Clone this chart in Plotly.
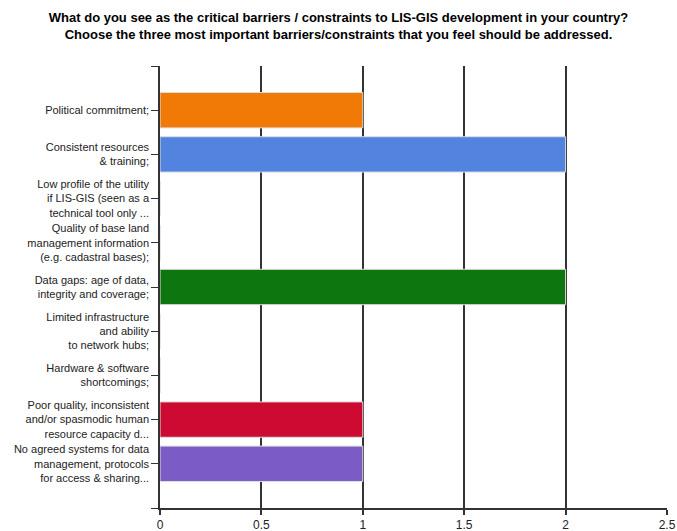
import numpy as np
import plotly.graph_objects as go

# Survey responses: critical barriers / constraints to LIS-GIS development
categories = [
    "Political commitment;",
    "Consistent resources<br>& training;",
    "Low profile of the utility<br>if LIS-GIS (seen as a<br>technical tool only ...",
    "Quality of base land<br>management information<br>(e.g. cadastral bases);",
    "Data gaps: age of data,<br>integrity and coverage;",
    "Limited infrastructure<br>and ability<br>to network hubs;",
    "Hardware & software<br>shortcomings;",
    "Poor quality, inconsistent<br>and/or spasmodic human<br>resource capacity d...",
    "No agreed systems for data<br>management, protocols<br>for access & sharing...",
]
counts = [1, 2, 0, 0, 2, 0, 0, 1, 1]
bar_colors = ["#F07A05", "#5283DE", "#2E9E9E", "#A0A0A0", "#0E760E",
              "#888888", "#888888", "#CD0A32", "#7B5CC6"]
x_ticks = [0, 0.5, 1, 1.5, 2, 2.5]
x_tick_labels = ["0", "0.5", "1", "1.5", "2", "2.5"]

n = len(categories)
positions = np.arange(n)

fig = go.Figure(
    go.Bar(
        x=counts,
        y=positions,
        orientation="h",
        width=0.8,
        marker=dict(color=bar_colors, line=dict(color="#DDDDDD", width=1)),
        hoverinfo="x+y",
    )
)

fig.update_layout(
    width=677,
    height=531,
    margin=dict(l=160, r=10, t=66, b=23),
    paper_bgcolor="white",
    plot_bgcolor="white",
    showlegend=False,
    font=dict(family="Liberation Sans, Arial, sans-serif", size=11, color="#222222"),
    title=dict(
        text="<b>What do you see as the critical barriers / constraints to LIS-GIS development in your country?<br>"
             "Choose the three most important barriers/constraints that you feel should be addressed.</b>",
        x=0.5,
        xanchor="center",
        xref="container",
        y=1 - 22 / 531,
        yref="container",
        yanchor="middle",
        font=dict(size=13, color="#000000"),
    ),
)

fig.update_xaxes(
    range=[0, 2.5],
    tickvals=x_ticks,
    ticktext=x_tick_labels,
    automargin=False,
    showgrid=True,
    gridcolor="#333333",
    gridwidth=1.5,
    zeroline=False,
    showline=True,
    linecolor="#333333",
    linewidth=1.5,
    ticks="outside",
    ticklen=5,
    tickcolor="#333333",
    tickwidth=1.5,
    tickfont=dict(size=12, color="#222222"),
)

fig.update_yaxes(
    range=[n, -1],
    tickvals=[-1] + list(positions) + [n],
    ticktext=[""] + categories + [""],
    automargin=False,
    showgrid=False,
    zeroline=False,
    showline=True,
    linecolor="#333333",
    linewidth=1.5,
    ticks="outside",
    ticklen=7,
    tickcolor="#333333",
    tickwidth=1.2,
    tickfont=dict(size=11, color="#222222"),
)

fig.write_html("out.html")
